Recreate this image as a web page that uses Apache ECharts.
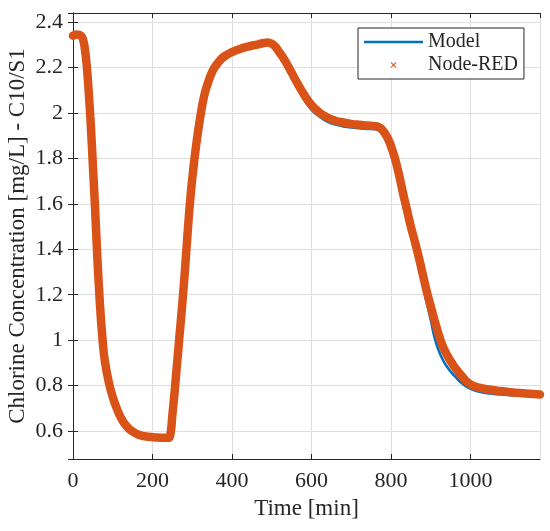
<!DOCTYPE html>
<html>
<head>
<meta charset="utf-8">
<script src="https://cdn.jsdelivr.net/npm/echarts@6/dist/echarts.min.js"></script>
<style>
  html, body { margin: 0; padding: 0; background: #fff; }
  #chart { width: 550px; height: 531px; }
</style>
</head>
<body>
<div id="chart"></div>
<script>
// time axis [min]
var times = [0, 10, 20, 25, 30, 35, 40, 45, 50, 55, 60, 65, 70, 75, 80, 90, 100, 110, 120, 130,
  140, 150, 160, 170, 180, 200, 220, 240, 245, 250, 255, 260, 265, 270, 275, 280, 285, 290, 295, 300,
  310, 320, 330, 340, 350, 360, 370, 380, 400, 420, 440, 460, 480, 490, 500, 510, 520, 530, 540, 550, 560,
  580, 600, 620, 640, 660, 680, 700, 720, 740, 760, 770, 780, 790, 800, 810, 820, 830, 840, 850, 860,
  870, 880, 890, 900, 910, 920, 930, 940, 950, 960, 980, 1000, 1025, 1050, 1075, 1100, 1125, 1150, 1175];

// Node-RED concentration [mg/L]
var nodeRed = [2.34, 2.345, 2.34, 2.325, 2.28, 2.2, 2.08, 1.94, 1.77, 1.60, 1.41, 1.24, 1.10, 0.99, 0.91, 0.815, 0.75, 0.70, 0.66, 0.632,
  0.612, 0.598, 0.588, 0.581, 0.577, 0.573, 0.571, 0.570, 0.585, 0.67, 0.76, 0.86, 0.96, 1.06, 1.16, 1.27, 1.39, 1.51, 1.62, 1.71,
  1.86, 1.98, 2.075, 2.135, 2.18, 2.21, 2.232, 2.248, 2.268, 2.282, 2.292, 2.30, 2.308, 2.31, 2.305, 2.29, 2.265, 2.24, 2.21, 2.178, 2.145,
  2.085, 2.035, 2.002, 1.98, 1.966, 1.958, 1.952, 1.948, 1.945, 1.942, 1.937, 1.922, 1.895, 1.855, 1.80, 1.73, 1.65, 1.575, 1.50, 1.435,
  1.365, 1.29, 1.215, 1.15, 1.085, 1.025, 0.975, 0.938, 0.908, 0.882, 0.838, 0.805, 0.79, 0.782, 0.776, 0.771, 0.767, 0.764, 0.761];

// Model concentration [mg/L]
var model = [2.34, 2.345, 2.34, 2.325, 2.28, 2.2, 2.08, 1.94, 1.77, 1.60, 1.41, 1.24, 1.10, 0.99, 0.91, 0.815, 0.75, 0.70, 0.66, 0.632,
  0.612, 0.598, 0.588, 0.581, 0.577, 0.573, 0.571, 0.570, 0.585, 0.67, 0.76, 0.86, 0.96, 1.06, 1.16, 1.27, 1.39, 1.51, 1.62, 1.71,
  1.86, 1.98, 2.075, 2.135, 2.18, 2.21, 2.232, 2.248, 2.268, 2.282, 2.292, 2.30, 2.308, 2.31, 2.305, 2.29, 2.265, 2.235, 2.198, 2.16, 2.125,
  2.065, 2.015, 1.984, 1.962, 1.949, 1.941, 1.936, 1.933, 1.93, 1.928, 1.924, 1.91, 1.884, 1.845, 1.793, 1.725, 1.645, 1.57, 1.495, 1.425,
  1.335, 1.245, 1.165, 1.09, 1.01, 0.955, 0.915, 0.886, 0.862, 0.843, 0.808, 0.786, 0.772, 0.765, 0.761, 0.758, 0.756, 0.755, 0.754];

var seriesNames = ['Model', 'Node-RED'];

function pairs(xs, ys) {
  return xs.map(function (x, i) { return [x, ys[i]]; });
}

var font = 'Liberation Serif';
var ink = '#262626';
var frame = 'M0,0L0.01,0L0,0.01Z M60,12L59.99,12L60,11.99Z ';
var lineIcon = 'path://' + frame + 'M0,4.7L60,4.7L60,7.3L0,7.3Z';
var crossIcon = 'path://' + frame +
  'M27,3.7L27.7,3L30,5.3L32.3,3L33,3.7L30.7,6L33,8.3L32.3,9L30,6.7L27.7,9L27,8.3L29.3,6Z';

var chart = echarts.init(document.getElementById('chart'));
chart.setOption({
  animation: false,
  grid: { left: 73, right: 10, top: 13, bottom: 72, outerBoundsMode: 'none', containLabel: false },
  legend: {
    orient: 'vertical',
    left: 358,
    top: 28,
    padding: [4, 6, 4, 6],
    itemGap: 3,
    itemWidth: 59,
    itemHeight: 12,
    backgroundColor: '#fff',
    borderColor: ink,
    borderWidth: 1,
    borderRadius: 0,
    textStyle: { fontFamily: font, fontSize: 20, color: ink },
    data: [
      { name: seriesNames[0], icon: lineIcon },
      { name: seriesNames[1], icon: crossIcon }
    ]
  },
  xAxis: [{
    type: 'value',
    min: 0,
    max: 1175,
    interval: 200,
    name: 'Time [min]',
    nameLocation: 'middle',
    nameGap: 38,
    nameMoveOverlap: false,
    nameTextStyle: { fontFamily: font, fontSize: 23, color: ink },
    axisLine: { lineStyle: { color: ink, width: 1 } },
    axisTick: { inside: true, length: 5, lineStyle: { color: ink } },
    axisLabel: {
      fontFamily: font, fontSize: 22, color: ink, margin: 11, showMaxLabel: false,
      formatter: function (v) { return String(v); }
    },
    splitLine: { show: true, lineStyle: { color: '#dedede', width: 1 } }
  }, {
    type: 'value',
    position: 'top',
    min: 0,
    max: 1175,
    interval: 200,
    axisLine: { show: true, lineStyle: { color: ink, width: 1 } },
    axisTick: { inside: true, length: 5, lineStyle: { color: ink } },
    axisLabel: { show: false },
    splitLine: { show: false }
  }],
  yAxis: [{
    type: 'value',
    min: 0.477,
    max: 2.44,
    splitNumber: 10,
    name: 'Chlorine Concentration [mg/L] - C10/S1',
    nameLocation: 'middle',
    nameGap: 44,
    nameMoveOverlap: false,
    nameTextStyle: { fontFamily: font, fontSize: 23, color: ink },
    axisLine: { show: true, lineStyle: { color: ink, width: 1 } },
    axisTick: { inside: true, length: 5, lineStyle: { color: ink } },
    axisLabel: {
      fontFamily: font, fontSize: 22, color: ink, margin: 10,
      showMinLabel: false, showMaxLabel: false,
      formatter: function (v) {
        var k = Math.round(v / 0.2);
        return Math.abs(v - k * 0.2) < 1e-6 ? String(+(k * 0.2).toFixed(1)) : '';
      }
    },
    splitLine: { show: true, lineStyle: { color: '#dedede', width: 1 } }
  }, {
    type: 'value',
    position: 'right',
    min: 0.477,
    max: 2.44,
    splitNumber: 10,
    axisLine: { show: true, lineStyle: { color: ink, width: 1 } },
    axisTick: { inside: true, length: 5, lineStyle: { color: ink } },
    axisLabel: { show: false },
    splitLine: { show: false }
  }],
  series: [{
    name: seriesNames[0],
    type: 'line',
    symbol: 'none',
    smooth: 0.5,
    color: '#0072BD',
    lineStyle: { width: 2.6, color: '#0072BD' },
    data: pairs(times, model)
  }, {
    name: seriesNames[1],
    type: 'line',
    symbol: 'none',
    smooth: 0.5,
    color: '#D95319',
    lineStyle: { width: 8.5, color: '#D95319', join: 'round', cap: 'round' },
    data: pairs(times, nodeRed)
  }]
});
</script>
</body>
</html>
